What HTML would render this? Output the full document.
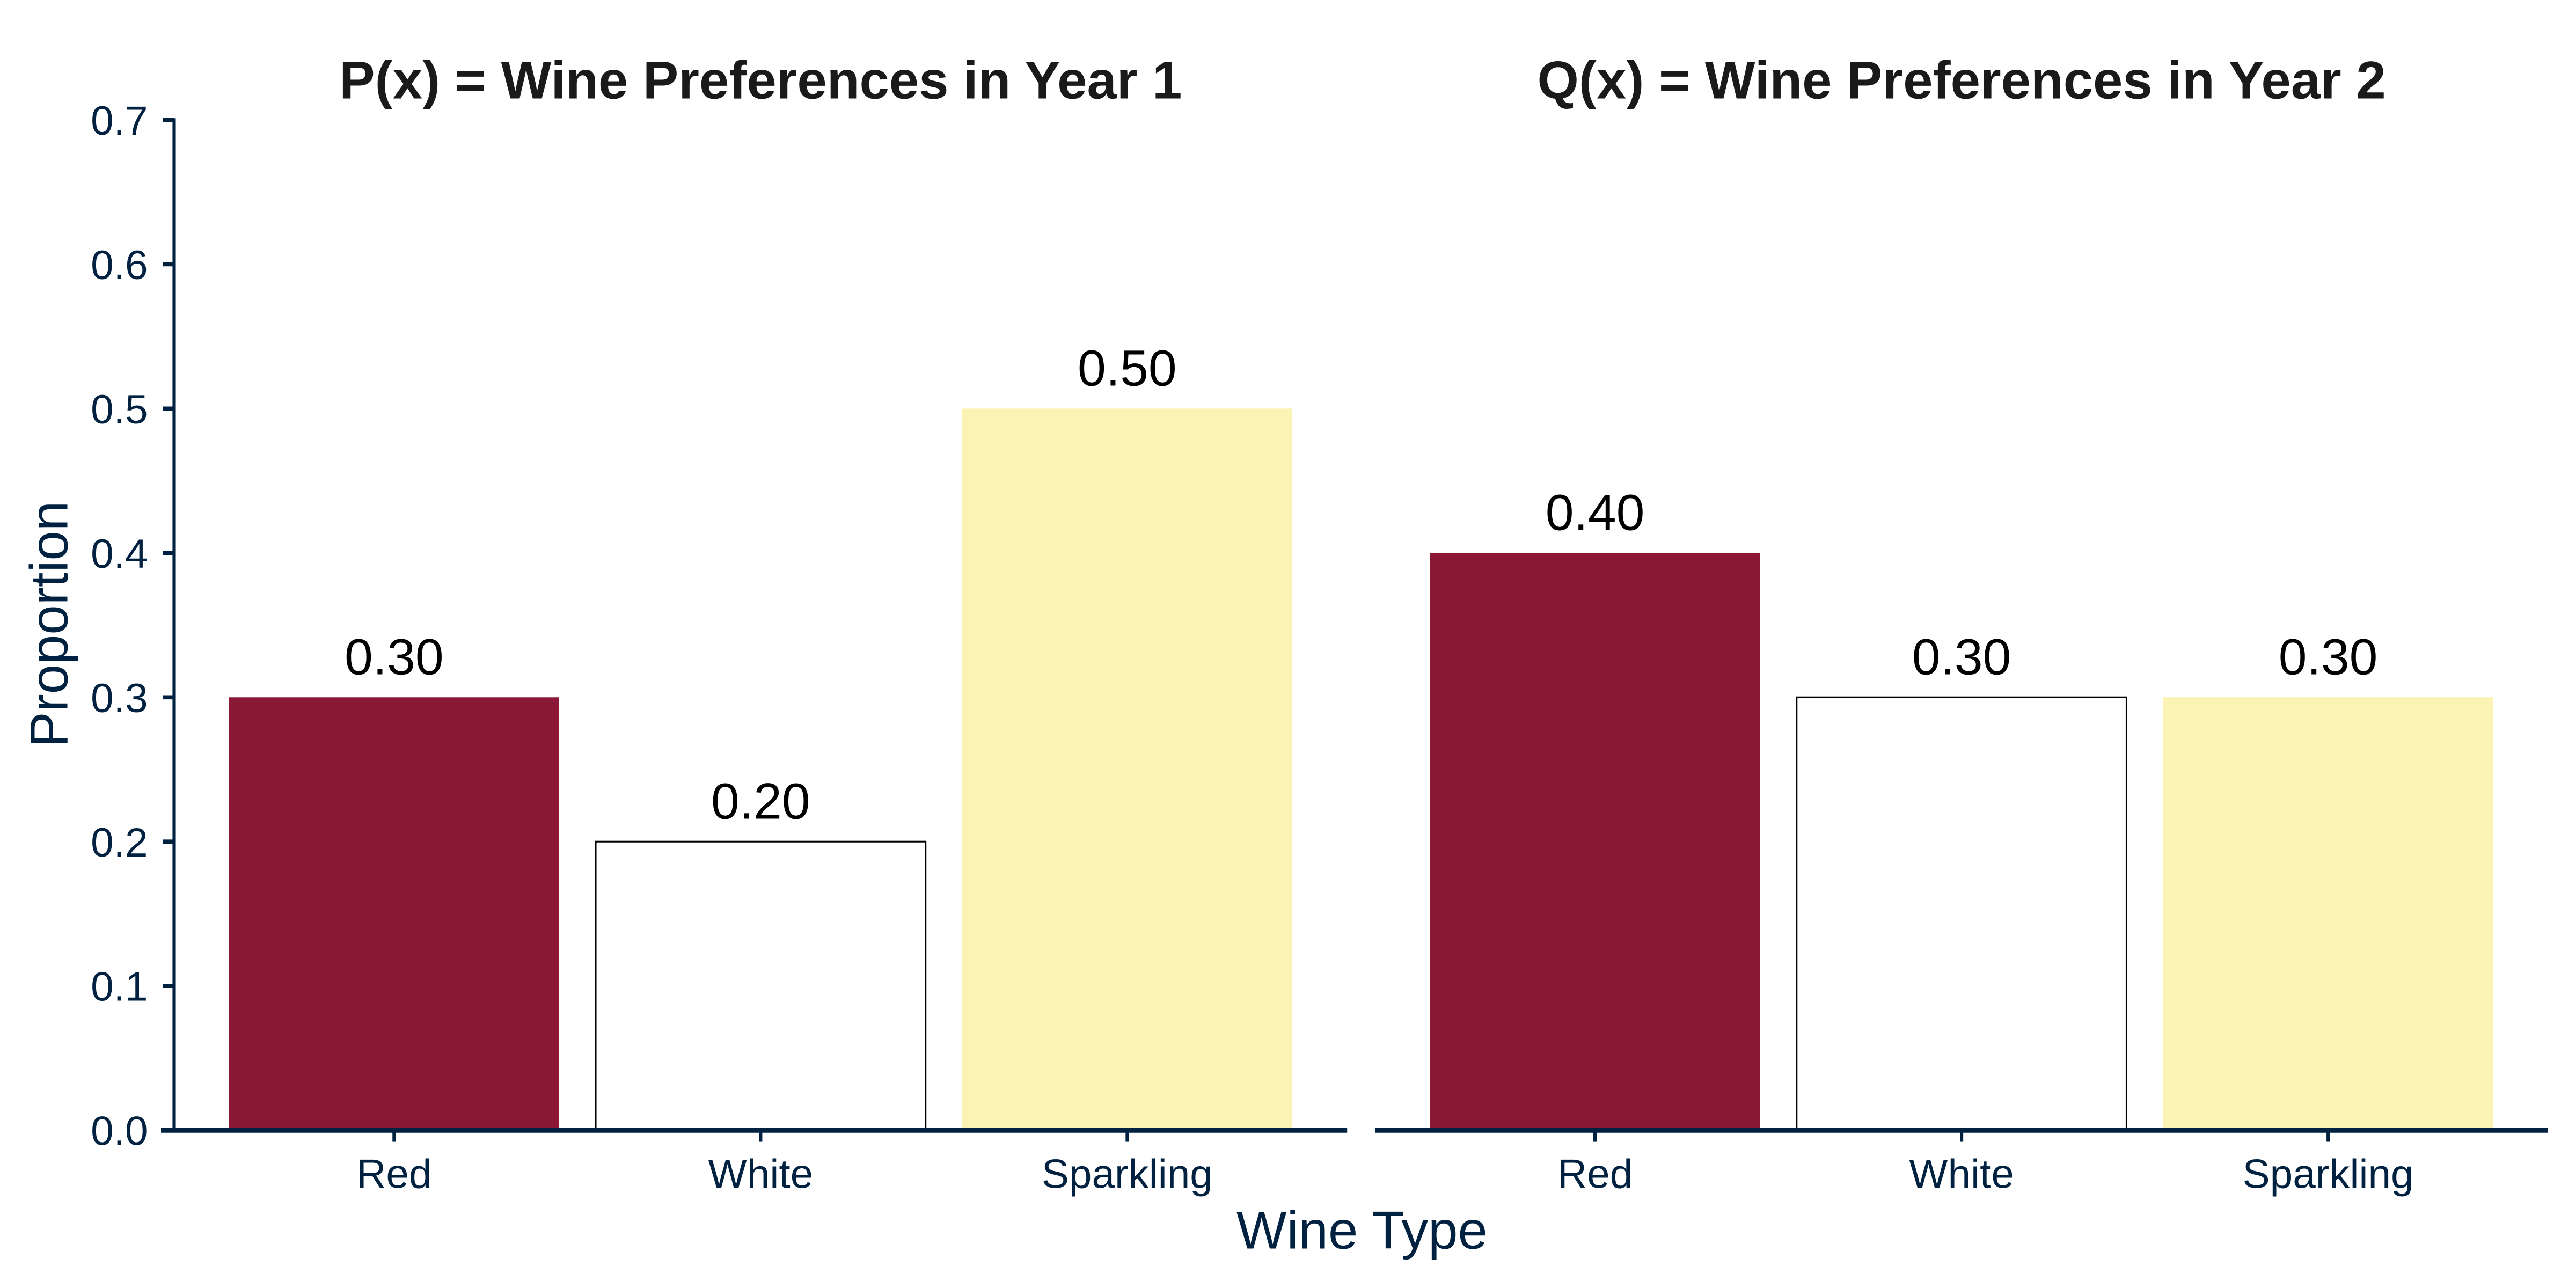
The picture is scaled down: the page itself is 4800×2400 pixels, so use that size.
<!DOCTYPE html>
<html><head><meta charset="utf-8"><style>
html,body{margin:0;padding:0;background:#fff;}
svg{display:block;}
text{font-family:"Liberation Sans",sans-serif;}
</style></head><body>
<svg id="chart" width="4800" height="2400" viewBox="0 0 1568 784" xmlns="http://www.w3.org/2000/svg">
<rect width="1568" height="784" fill="#fff"/>
<g id="layer"></g>
</svg>
<script>
const categories = ["Red", "White", "Sparkling"];
const year1Values = [0.30, 0.20, 0.50];
const year2Values = [0.40, 0.30, 0.30];
const panelTitles = ["P(x) = Wine Preferences in Year 1", "Q(x) = Wine Preferences in Year 2"];
const yTicks = [0.0, 0.1, 0.2, 0.3, 0.4, 0.5, 0.6, 0.7];
const yTickLabels = ["0.0", "0.1", "0.2", "0.3", "0.4", "0.5", "0.6", "0.7"];

const NS = "http://www.w3.org/2000/svg";
const layer = document.getElementById("layer");
const fills = ["#8B1834", "#FFFFFF", "#FAF3B3"];
const axisColor = "#002240";
const y0 = 688, yTop = 73, yMax = 0.7;
function yScale(v){ return y0 - (v / yMax) * (y0 - yTop); }
const panels = [{x0:106, x1:820, values:year1Values}, {x0:837, x1:1551, values:year2Values}];
function xScale(p, i){ const band = (p.x1 - p.x0) / (categories.length + 0.2); return p.x0 + band * (0.6 + i); }
function mk(tag, attrs, parent){ const e = document.createElementNS(NS, tag); for (const k in attrs) e.setAttribute(k, attrs[k]); (parent || layer).appendChild(e); return e; }

panels.forEach((p, pi) => {
  const g = mk("g", {});
  
  
  const band = (p.x1 - p.x0) / (categories.length + 0.2);
  const bw = band * 0.9;
  p.values.forEach((v, i) => {
    const cx = xScale(p, i);
    const r = mk("rect", {x: cx - bw/2, y: yScale(v), width: bw, height: yScale(0) - yScale(v), fill: fills[i], stroke: i === 1 ? "#000" : "none", "stroke-width": i === 1 ? 1 : 0}, g);
    
    
    const t = mk("text", {x: cx, y: yScale(v) - 14, "text-anchor": "middle", "font-size": 31, fill: "#000"}, g);
    t.textContent = v.toFixed(2);
    
    
    const tk = mk("line", {x1: cx, x2: cx, y1: y0, y2: y0 + 7, stroke: axisColor, "stroke-width": 2}, g);
    
    
    const tl = mk("text", {x: cx, y: 723, "text-anchor": "middle", "font-size": 25, fill: axisColor}, g);
    tl.textContent = categories[i];
    
    
  });
  const xa = mk("line", {x1: pi === 0 ? 98 : p.x0, x2: p.x1, y1: y0, y2: y0, stroke: axisColor, "stroke-width": 3}, g);
  
  
  const tt = mk("text", {x: (p.x0 + p.x1) / 2, y: 60, "text-anchor": "middle", "font-size": 32.5, "font-weight": "bold", fill: "#1a1a1a"}, g);
  tt.textContent = panelTitles[pi];
  
  
});

const ya = mk("line", {x1: 106, x2: 106, y1: yTop - 1, y2: y0, stroke: axisColor, "stroke-width": 2});


yTicks.forEach((v, i) => {
  const tk = mk("line", {x1: 99, x2: 106, y1: yScale(v), y2: yScale(v), stroke: axisColor, "stroke-width": 2.5});
  
  
  const tl = mk("text", {x: 90, y: yScale(v) + 9, "text-anchor": "end", "font-size": 25, fill: axisColor});
  tl.textContent = yTickLabels[i];
  
  
});
const yt = mk("text", {x: 0, y: 0, transform: "translate(41,380) rotate(-90)", "text-anchor": "middle", "font-size": 32.5, fill: axisColor});
yt.textContent = "Proportion";


const xt = mk("text", {x: 829, y: 760, "text-anchor": "middle", "font-size": 32.5, fill: axisColor});
xt.textContent = "Wine Type";


</script>
</body></html>
